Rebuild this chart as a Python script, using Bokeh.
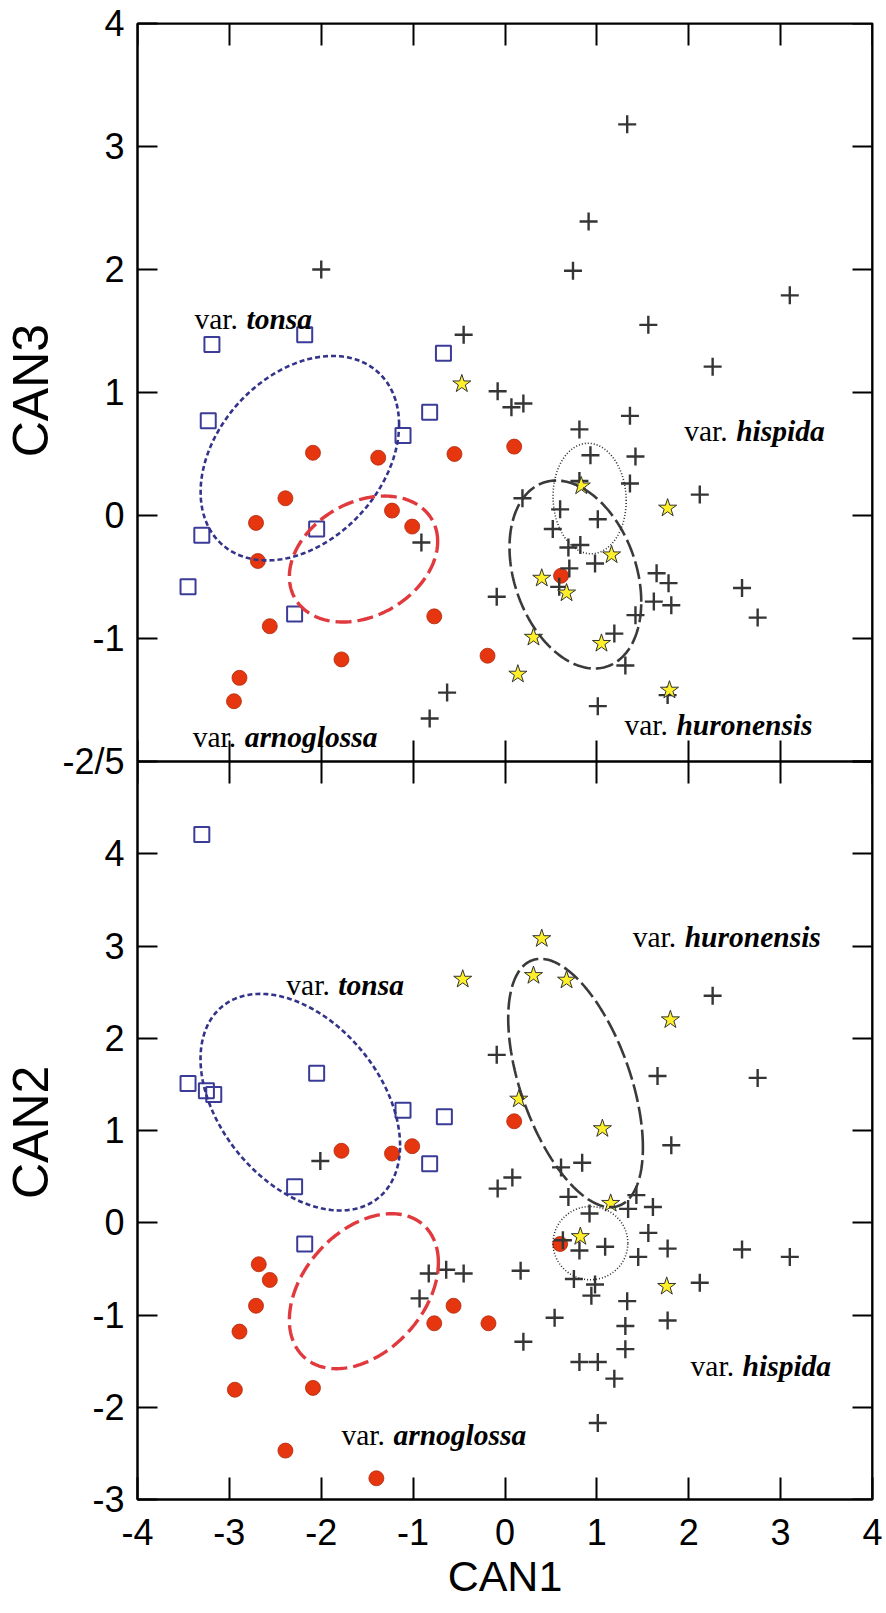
import numpy as np
from bokeh.plotting import figure
from bokeh.models import Range1d, LinearAxis, FixedTicker, CustomJSTickFormatter
from bokeh.core.properties import value
from bokeh.embed import file_html
from bokeh.resources import INLINE

# ---------------- data: upper panel (CAN1 vs CAN3) ----------------
hisp_top_can1 = [-2.00, 1.33, 0.91, 0.74, 3.10, 1.56, 2.26, -0.45, -0.08, 0.07, 0.20, 1.36, 0.81, 0.93,
                 1.42, 0.81, 1.36, 2.12, 0.19, 0.60, 1.01, 0.52, 0.69, 0.82, 0.98, 0.70, 0.59, -0.09,
                 1.65, 1.78, 2.58, 1.62, 1.81, 1.42, 2.75, 1.19, 1.31, -0.63, 1.77, 1.01, -0.82, -0.91]
hisp_top_can3 = [2.00, 3.18, 2.39, 1.99, 1.79, 1.55, 1.21, 1.47, 1.01, 0.88, 0.91, 0.81, 0.70, 0.49,
                 0.48, 0.28, 0.26, 0.17, 0.14, 0.05, -0.03, -0.11, -0.26, -0.24, -0.39, -0.43, -0.58, -0.66,
                 -0.47, -0.55, -0.59, -0.70, -0.73, -0.81, -0.83, -0.96, -1.22, -1.44, -1.46, -1.55, -1.65, -0.22]
huro_top_can1 = [-0.47, 0.83, 1.77, 1.16, 0.40, 0.67, 0.31, 1.05, 0.14, 1.79]
huro_top_can3 = [1.07, 0.24, 0.06, -0.32, -0.51, -0.63, -0.99, -1.04, -1.29, -1.42]
arno_top_can1 = [-2.09, -1.38, -0.55, 0.10, -2.39, -1.23, -2.71, -1.01, -2.69, -2.56, -0.77, -1.78,
                 -2.89, -2.95, 0.61, -0.19]
arno_top_can3 = [0.51, 0.47, 0.50, 0.56, 0.14, 0.04, -0.06, -0.09, -0.37, -0.90, -0.82, -1.17,
                 -1.32, -1.51, -0.49, -1.14]
tons_top_can1 = [-3.19, -2.18, -0.67, -0.82, -3.23, -1.11, -3.30, -2.05, -3.45, -2.29]
tons_top_can3 = [1.39, 1.47, 1.32, 0.84, 0.77, 0.65, -0.16, -0.11, -0.58, -0.80]

# ---------------- data: lower panel (CAN1 vs CAN2) ----------------
hisp_bot_can1 = [-2.01, -0.83, -0.64, -0.93, -0.45, 0.17, 0.54, 0.20, -0.08, 0.69, 1.43, 1.34, 1.61, 0.92,
                 0.63, 0.81, 1.09, 1.56, 1.77, 1.45, 2.58, 3.10, 0.75, 0.98, 0.94, 2.12, 1.33, 1.31,
                 1.77, 1.31, 0.81, 1.01, 1.19, 1.01, 2.26, -0.09, 1.66, 2.75, 1.81, 0.61, 0.84, 0.08]
hisp_bot_can2 = [0.67, -0.55, -0.51, -0.82, -0.55, -0.52, -1.03, -1.29, 0.37, 0.28, 0.30, 0.15, 0.17, 0.10,
                 -0.19, -0.30, -0.26, -0.11, -0.28, -0.37, -0.29, -0.37, -0.61, -0.67, -0.79, -0.65, -0.85, -1.12,
                 -1.06, -1.37, -1.51, -1.51, -1.69, -2.17, 2.46, 1.82, 1.59, 1.57, 0.84, 0.60, 0.65, 0.49]
huro_bot_can1 = [0.40, -0.46, 0.31, 0.67, 1.80, 0.15, 1.06, 1.15, 0.82, 1.76]
huro_bot_can2 = [3.08, 2.64, 2.68, 2.63, 2.20, 1.34, 1.02, 0.21, -0.15, -0.69]
arno_bot_can1 = [-1.78, -1.23, -1.01, 0.10, 0.60, -2.68, -2.56, -2.71, -2.89, -2.94, -2.09, -2.39,
                 -1.40, -0.77, -0.56, -0.18]
arno_bot_can2 = [0.78, 0.75, 0.83, 1.10, -0.23, -0.45, -0.62, -0.90, -1.18, -1.81, -1.79, -2.47,
                 -2.77, -1.09, -0.90, -1.09]
tons_bot_can1 = [-3.30, -3.45, -3.25, -3.17, -2.05, -1.11, -0.66, -0.82, -2.29, -2.18]
tons_bot_can2 = [4.21, 1.51, 1.43, 1.39, 1.62, 1.22, 1.15, 0.64, 0.39, -0.23]

# ellipses: centre x, centre y, sd x, sd y, correlation
ell_names = ["tonsa", "arnoglossa", "huronensis", "hispida"]
ell_top_cx = [-2.233, -1.540, 0.766, 0.921]
ell_top_cy = [0.466, -0.354, -0.480, 0.138]
ell_top_sx = [1.080, 0.807, 0.717, 0.398]
ell_top_sy = [0.831, 0.512, 0.764, 0.449]
ell_top_r = [0.33, 0.28, -0.29, -0.04]
ell_bot_cx = [-2.228, -1.536, 0.768, 0.930]
ell_bot_cy = [1.307, -0.742, 1.515, -0.221]
ell_bot_sx = [1.086, 0.811, 0.733, 0.407]
ell_bot_sy = [1.174, 0.840, 1.346, 0.397]
ell_bot_r = [-0.40, 0.37, -0.52, 0.0]

# variety labels
lab_top_names = ["tonsa", "hispida", "huronensis", "arnoglossa"]
lab_top_x = [-3.38, 1.95, 1.30, -3.40]
lab_top_y = [1.60, 0.69, -1.70, -1.80]
lab_bot_names = ["tonsa", "huronensis", "hispida", "arnoglossa"]
lab_bot_x = [-2.38, 1.39, 2.02, -1.78]
lab_bot_y = [2.58, 3.10, -1.55, -2.30]

x_ticks = [-4, -3, -2, -1, 0, 1, 2, 3, 4]
can3_ticks = [-2, -1, 0, 1, 2, 3, 4]
can2_ticks = [-3, -2, -1, 0, 1, 2, 3, 4, 5]
x_title, top_title, bot_title = "CAN1", "CAN3", "CAN2"

# ---------------- styles ----------------
BLUE = "#3b3b98"
BLUE_L = "#33338a"
RED = "#e5360f"
RED_L = "#e03a3e"
DARK = "#353535"
STAR = "#fff02a"
SANS = "Liberation Sans"
SERIF = "Liberation Serif"

BOT = (can2_ticks[0], can2_ticks[-1])
TOP = (can3_ticks[0], can3_ticks[-1])
XR = (x_ticks[0], x_ticks[-1])
# the two panels share one frame: lower half = CAN2 scale, upper half = CAN3 scale
bot_range = Range1d(BOT[0], BOT[1] + (BOT[1] - BOT[0]))
top_range = Range1d(TOP[0] - (TOP[1] - TOP[0]), TOP[1])


def top_to_bot(v):
    return bot_range.start + (v - top_range.start) * (bot_range.end - bot_range.start) / (top_range.end - top_range.start)


p = figure(width=886, height=1613, x_range=Range1d(*XR), y_range=bot_range,
           output_backend="svg", toolbar_location=None,
           x_axis_location=None, y_axis_location=None,
           min_border_left=135, min_border_right=14, min_border_top=23, min_border_bottom=114)
p.extra_y_ranges = {"top": top_range}
p.grid.grid_line_color = None
p.outline_line_color = "black"
p.outline_line_width = 2
p.background_fill_color = "white"
p.border_fill_color = "white"

num_fmt = CustomJSTickFormatter(code="return String(tick);")
empty_fmt = CustomJSTickFormatter(code="return '';")
y_fmt = CustomJSTickFormatter(
    args=dict(mid=BOT[1], tlo=TOP[0], t0=top_range.start, t1=top_range.end,
              b0=bot_range.start, b1=bot_range.end),
    code="""
if (Math.abs(tick - mid) < 1e-6) { return String(tlo) + "/" + String(mid); }
if (tick > mid) { return String(Math.round(t0 + (tick - b0) * (t1 - t0) / (b1 - b0))); }
return String(Math.round(tick));
""")


def style(ax, tick_in, labels, standoff):
    ax.major_tick_in = tick_in
    ax.major_tick_out = 0
    ax.minor_tick_line_color = None
    ax.major_tick_line_width = 2
    ax.major_tick_line_color = "black"
    ax.axis_line_color = "black"
    ax.axis_line_width = 2
    ax.major_label_text_font = SANS
    ax.major_label_text_font_size = "36px" if labels else "0px"
    ax.major_label_text_color = "black"
    ax.major_label_standoff = standoff
    return ax


def plain_axis(side, ticks, loc, tick_in, range_name=None):
    kw = {"y_range_name": range_name} if range_name else {}
    ax = LinearAxis(ticker=FixedTicker(ticks=ticks), fixed_location=loc, formatter=empty_fmt, **kw)
    style(ax, tick_in, False, 0)
    p.add_layout(ax, side)


# x axis with labels and title
xa = style(LinearAxis(ticker=FixedTicker(ticks=x_ticks), formatter=num_fmt), 22, True, 19)
xa.axis_label = x_title
xa.axis_label_text_font = SANS
xa.axis_label_text_font_size = "43px"
xa.axis_label_text_font_style = "normal"
xa.axis_label_text_color = "black"
xa.axis_label_standoff = 4
p.add_layout(xa, "below")

# y axis: both panels' ticks on one axis, the upper ones placed through the upper panel scale
y_ticks_all = list(can2_ticks) + [top_to_bot(v) for v in can3_ticks if v > TOP[0]]
ya = style(LinearAxis(ticker=FixedTicker(ticks=y_ticks_all), formatter=y_fmt), 20, True, 13)
ya.axis_label = bot_title + "\u2003" * 12 + "\u2006" + top_title
ya.axis_label_text_font = SANS
ya.axis_label_text_font_size = "50px"
ya.axis_label_text_font_style = "normal"
ya.axis_label_text_color = "black"
ya.axis_label_standoff = 0
p.add_layout(ya, "left")

# tick-only axes on the other edges and on the panel boundary
plain_axis("above", x_ticks, bot_range.end, 22)
plain_axis("right", can3_ticks, XR[1], 20, range_name="top")
plain_axis("right", can2_ticks, XR[1], 20)
plain_axis("below", x_ticks, BOT[1], 21)
plain_axis("above", x_ticks, BOT[1], 22)


def draw_points(rn, hx, hy, sx_, sy_, ax_, ay_, tx_, ty_):
    kw = {} if rn is None else {"y_range_name": rn}
    p.scatter(x=tx_, y=ty_, marker="square", size=15, fill_color=None, line_color=BLUE, line_width=2, **kw)
    p.scatter(x=ax_, y=ay_, marker="circle", size=15, fill_color=RED, line_color="#b02a0c", line_width=0.8, **kw)
    p.scatter(x=hx, y=hy, marker="cross", size=18, line_color=DARK, line_width=2.4, **kw)
    p.scatter(x=sx_, y=sy_, marker="star", size=19, fill_color=STAR, line_color="#333333", line_width=1, **kw)


draw_points("top", hisp_top_can1, hisp_top_can3, huro_top_can1, huro_top_can3,
            arno_top_can1, arno_top_can3, tons_top_can1, tons_top_can3)
draw_points(None, hisp_bot_can1, hisp_bot_can2, huro_bot_can1, huro_bot_can2,
            arno_bot_can1, arno_bot_can2, tons_bot_can1, tons_bot_can2)

ell_style = {
    "tonsa": dict(line_color=BLUE_L, line_width=2.6, line_dash="5 3"),
    "arnoglossa": dict(line_color=RED_L, line_width=3.4, line_dash="16 6"),
    "huronensis": dict(line_color="#3a3a3a", line_width=2.6, line_dash="18 5"),
    "hispida": dict(line_color="#2a2a2a", line_width=1.6, line_dash="1 2"),
}
t = np.linspace(0, 2 * np.pi, 241)


def ellipse(cx, cy, sx, sy, r):
    ex = cx + sx * np.cos(t)
    ey = cy + sy * (r * np.cos(t) + np.sqrt(1 - r * r) * np.sin(t))
    return ex, ey


for i, nm in enumerate(ell_names):
    ex, ey = ellipse(ell_top_cx[i], ell_top_cy[i], ell_top_sx[i], ell_top_sy[i], ell_top_r[i])
    p.line(ex, ey, y_range_name="top", **ell_style[nm])
    ex, ey = ellipse(ell_bot_cx[i], ell_bot_cy[i], ell_bot_sx[i], ell_bot_sy[i], ell_bot_r[i])
    p.line(ex, ey, **ell_style[nm])


def labels(rn, xs, ys, names):
    kw = {} if rn is None else {"y_range_name": rn}
    p.text(x=xs, y=ys, text=["var."] * len(xs), text_font=value(SERIF), text_font_size=value("29.5px"),
           text_baseline="alphabetic", text_align="left", text_color="black", **kw)
    p.text(x=xs, y=ys, text=names, x_offset=52, text_font=value(SERIF), text_font_size=value("29.5px"),
           text_font_style="bold italic", text_baseline="alphabetic", text_align="left",
           text_color="black", **kw)


labels("top", lab_top_x, lab_top_y, lab_top_names)
labels(None, lab_bot_x, lab_bot_y, lab_bot_names)

open("out.html", "w").write(file_html(p, INLINE))
